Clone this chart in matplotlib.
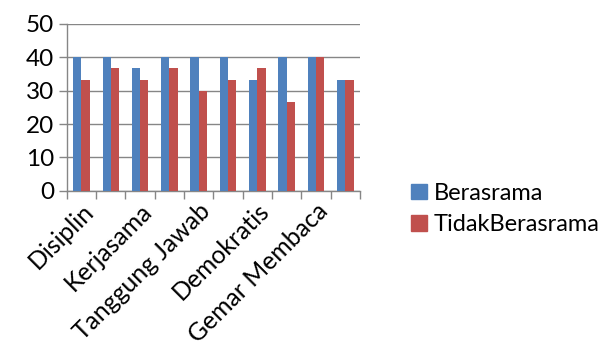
import matplotlib
matplotlib.use("Agg")
import matplotlib.pyplot as plt
import numpy as np
from matplotlib.patches import Patch

categories = ["Disiplin", "", "Kerjasama", "", "Tanggung Jawab", "", "Demokratis", "", "Gemar Membaca", ""]
berasrama = [40, 40, 36.67, 40, 40, 40, 33.33, 40, 40, 33.33]
tidak_berasrama = [33.33, 36.67, 33.33, 36.67, 30, 33.33, 36.67, 26.67, 40, 33.33]
series_names = ["Berasrama", "TidakBerasrama"]
yticks = [0, 10, 20, 30, 40, 50]

plt.rcParams['font.family'] = ['Lato', 'DejaVu Sans']

fig = plt.figure(figsize=(6.07, 3.52), dpi=100)
ax = fig.add_axes([0.110, 0.458, 0.483, 0.474])

x = np.arange(len(categories))
w = 0.28
blue = "#4F81BD"
red = "#C0504D"
ax.bar(x - w/2, berasrama, w, color=blue, zorder=3)
ax.bar(x + w/2, tidak_berasrama, w, color=red, zorder=3)

ax.set_xlim(-0.5, len(categories) - 0.5)
ax.set_ylim(0, 50)
ax.set_yticks(yticks)
ax.set_yticklabels([str(t) for t in yticks], fontsize=17.5)
ax.yaxis.grid(True, color="#868686", linewidth=1.0, zorder=0)
ax.tick_params(axis='y', length=6, color="#868686", width=1.0, pad=3)

# x ticks at group boundaries
ax.set_xticks(np.arange(-0.5, len(categories) + 0.5, 1.0))
ax.set_xticklabels([])
ax.tick_params(axis='x', length=6, color="#868686", width=1.0, direction='out')
ax.set_xticks(x, minor=True)
ax.set_xticklabels(categories, minor=True, rotation=45, ha='right', rotation_mode='anchor', fontsize=17.8)
ax.tick_params(axis='x', which='minor', length=0, pad=6)

for s in ["top", "right"]:
    ax.spines[s].set_visible(False)
for s in ["left", "bottom"]:
    ax.spines[s].set_color("#868686")
    ax.spines[s].set_linewidth(1.0)

handles = [Patch(color=blue), Patch(color=red)]
fig.legend(handles, series_names, loc='center left', bbox_to_anchor=(0.658, 0.406),
           frameon=False, fontsize=17, handlelength=0.65, handleheight=0.65,
           handletextpad=0.3, labelspacing=0.45, borderpad=0)

fig.savefig("out.png", dpi=100)
